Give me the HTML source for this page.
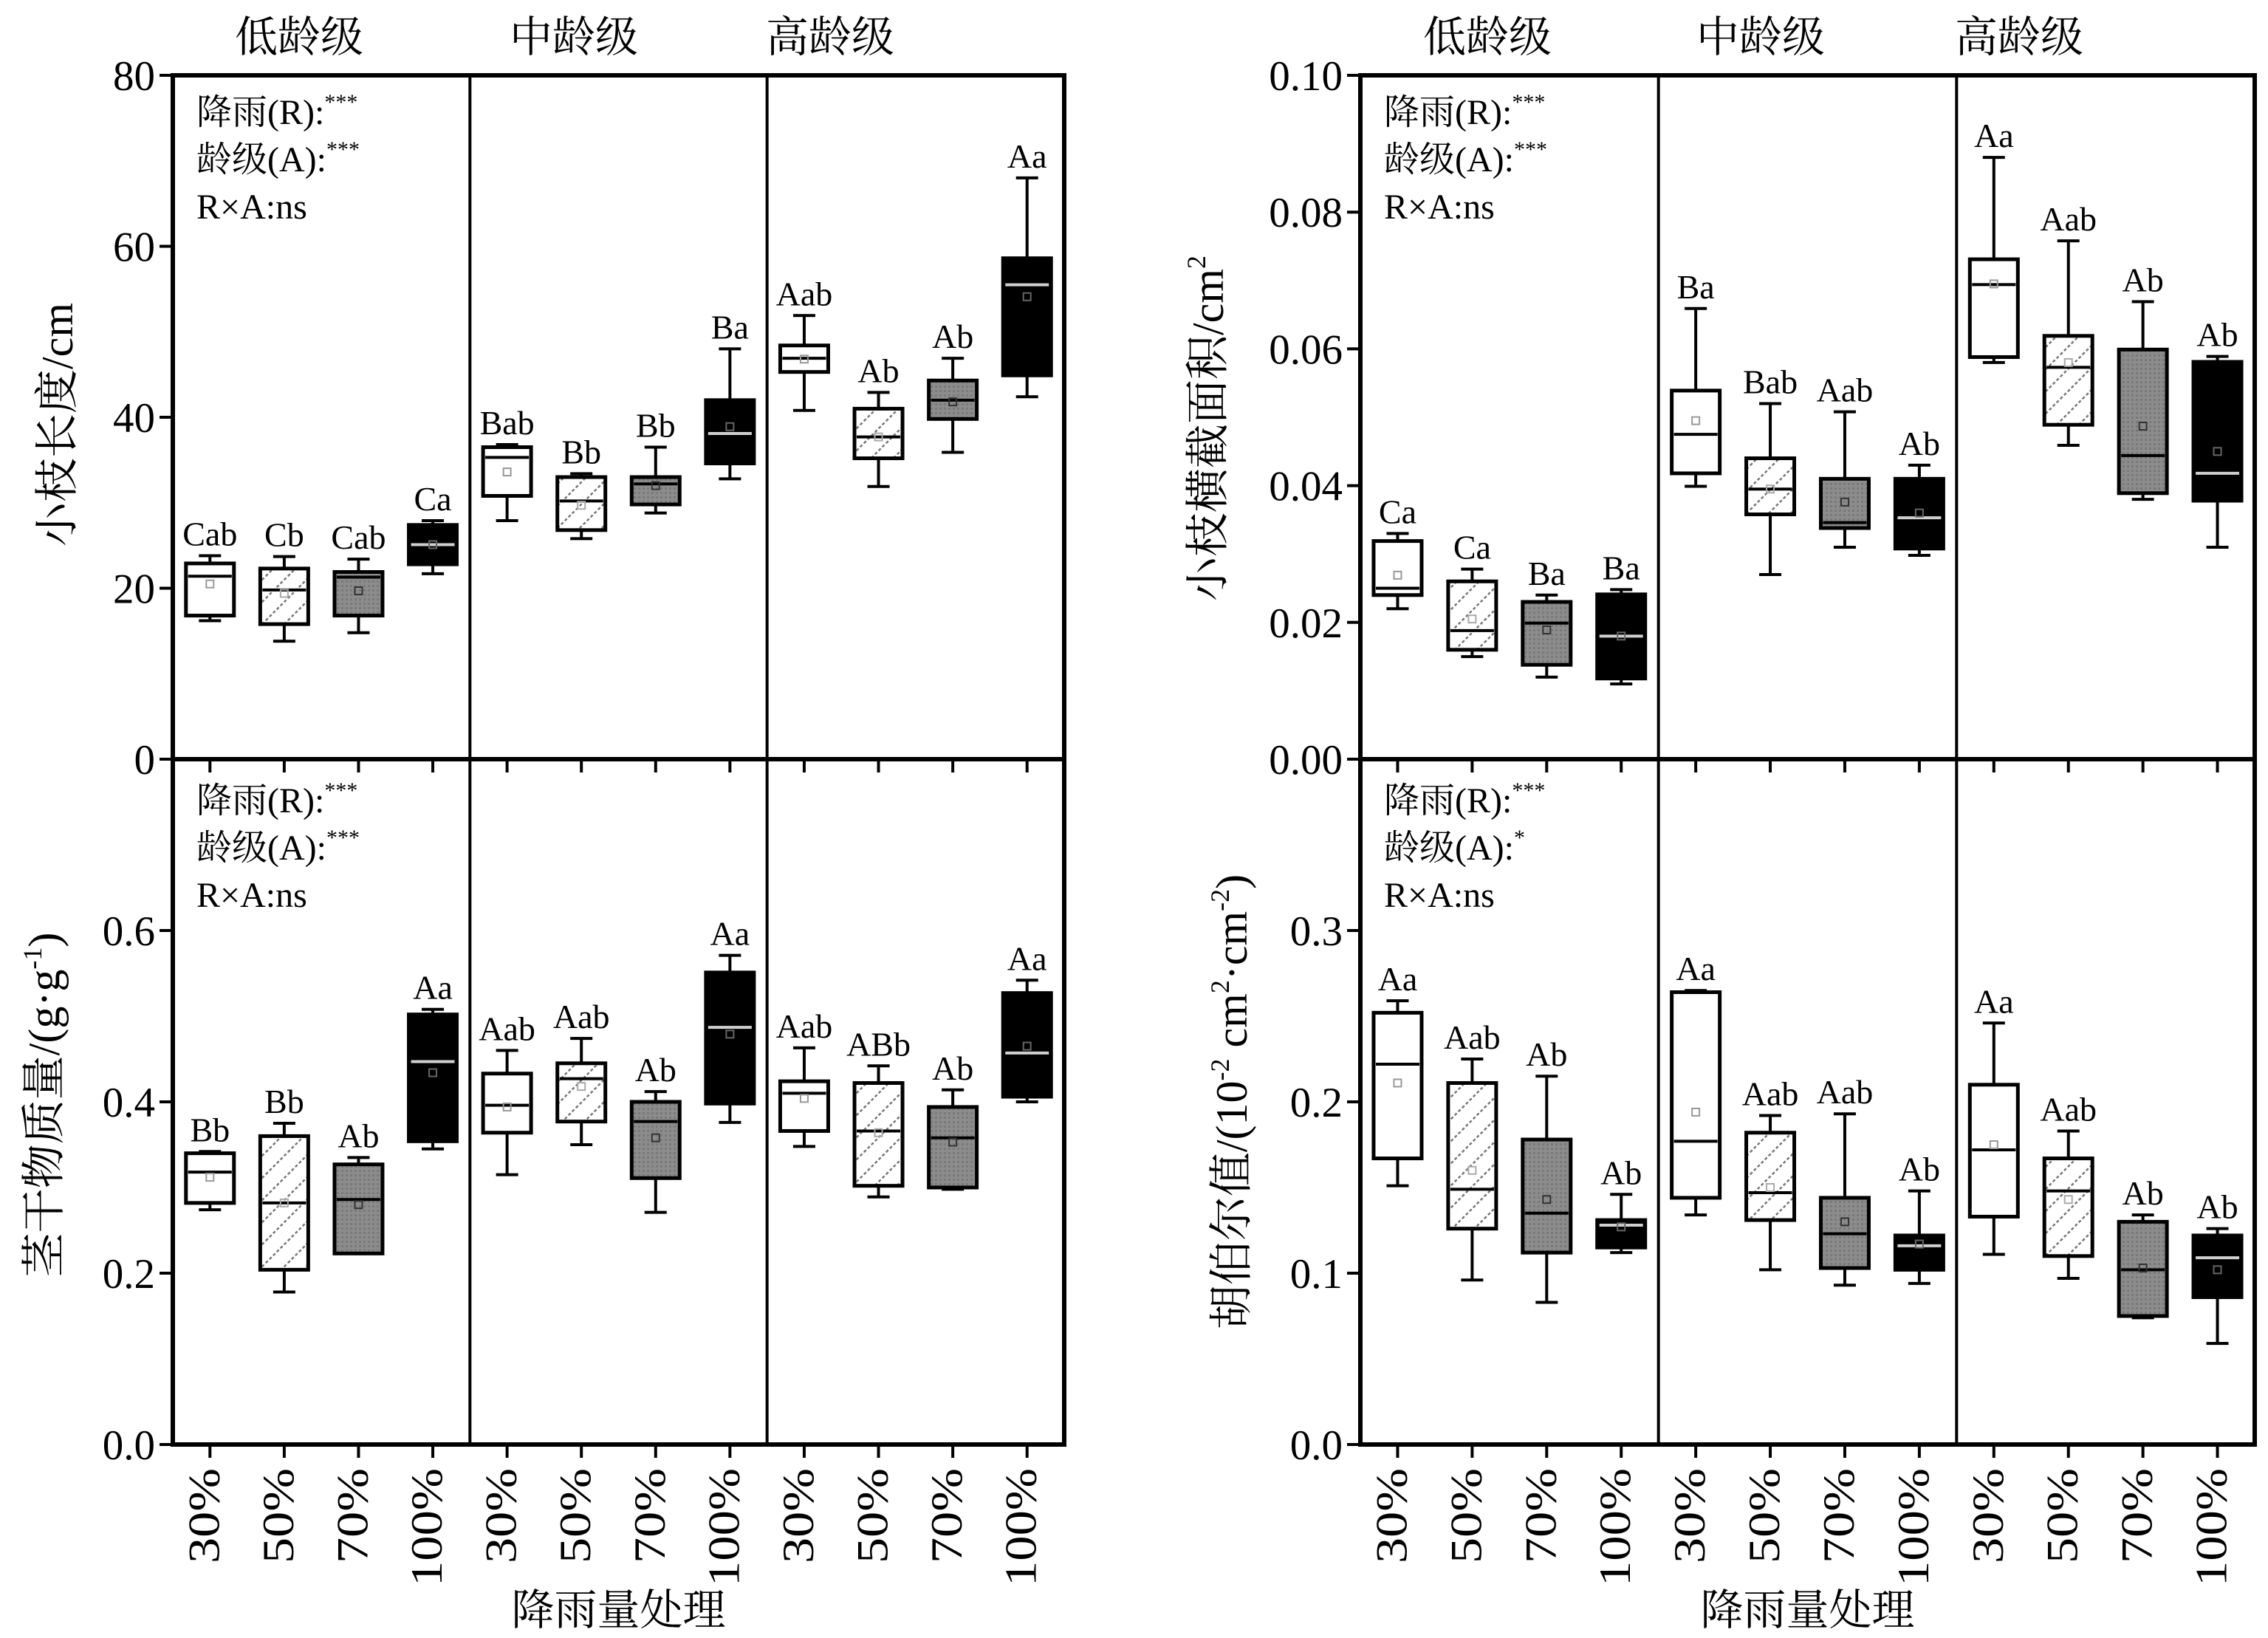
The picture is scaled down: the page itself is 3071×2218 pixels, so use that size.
<!DOCTYPE html>
<html><head><meta charset="utf-8"><style>
html,body{margin:0;padding:0;background:#fff;}
svg{display:block;font-family:"Liberation Serif","Noto Serif CJK SC","Noto Sans CJK SC",serif;}
</style></head><body>
<svg id="chart" width="3071" height="2218" viewBox="0 0 3071 2218" xmlns="http://www.w3.org/2000/svg">
<defs>
<pattern id="hatch" patternUnits="userSpaceOnUse" width="30" height="30" patternTransform="rotate(0)">
<path d="M-5,35 L35,-5 M-20,20 L20,-20 M10,50 L50,10" stroke="#777" stroke-width="2.5" stroke-dasharray="4,3"/>
</pattern>
<pattern id="stipple" patternUnits="userSpaceOnUse" width="6" height="6">
<rect width="6" height="6" fill="#8c8c8c"/><rect width="3" height="3" fill="#7a7a7a"/>
</pattern>
</defs>
<rect width="3071" height="2218" fill="#fff"/>
<g id="layer"></g>
</svg>
<script>
// Order: low age (30,50,70,100), mid age (30,50,70,100), high age (30,50,70,100)
const ageGroups = ["低龄级","中龄级","高龄级"];
const treatments = ["30%","50%","70%","100%"];

// Panel 1: 小枝长度/cm
const lenLow  = [16.2,13.8,14.8,21.7, 27.9,25.8,28.8,32.8, 40.8,31.9,35.9,42.4];
const lenQ1   = [16.8,15.8,16.8,22.8, 30.8,26.8,29.8,34.6, 45.3,35.2,39.8,44.9];
const lenMed  = [21.4,19.8,21.3,25.1, 35.3,30.2,32.2,38.1, 46.9,37.7,42.0,55.5];
const lenQ3   = [22.9,22.3,21.9,27.4, 36.5,33.0,33.0,42.0, 48.4,41.0,44.3,58.6];
const lenHigh = [23.8,23.7,23.4,27.9, 36.8,33.4,36.5,48.0, 51.9,42.9,46.9,68.0];
const lenMean = [20.5,19.4,19.7,25.1, 33.6,29.7,32.0,38.9, 46.8,37.7,41.8,54.1];
const lenLetters = ["Cab","Cb","Cab","Ca","Bab","Bb","Bb","Ba","Aab","Ab","Ab","Aa"];
const lenTicks = [0,20,40,60,80];

// Panel 2: 小枝横截面积/cm2
const areaLow  = [0.022,0.015,0.012,0.011, 0.0399,0.027,0.031,0.0298, 0.058,0.0459,0.038,0.031];
const areaQ1   = [0.024,0.016,0.0138,0.0118, 0.0418,0.0358,0.0338,0.0308, 0.0588,0.0489,0.0389,0.0378];
const areaMed  = [0.025,0.0188,0.0199,0.018, 0.0475,0.0395,0.0346,0.0353, 0.0694,0.0573,0.0444,0.0418];
const areaQ3   = [0.0319,0.026,0.023,0.0241, 0.0539,0.044,0.041,0.041, 0.0731,0.0619,0.0599,0.0581];
const areaHigh = [0.033,0.0278,0.024,0.0248, 0.0659,0.052,0.0508,0.043, 0.088,0.0758,0.0669,0.0589];
const areaMean = [0.0269,0.0205,0.0189,0.018, 0.0495,0.0395,0.0376,0.036, 0.0695,0.058,0.0487,0.045];
const areaLetters = ["Ca","Ca","Ba","Ba","Ba","Bab","Aab","Ab","Aa","Aab","Ab","Ab"];
const areaTicks = [0,0.02,0.04,0.06,0.08,0.10];
const areaTickLabels = ["0.00","0.02","0.04","0.06","0.08","0.10"];

// Panel 3: 茎干物质量/(g·g-1)
const dmLow  = [0.274,0.178,0.223,0.345, 0.315,0.35,0.271,0.376, 0.348,0.289,0.298,0.40];
const dmQ1   = [0.282,0.204,0.223,0.354, 0.364,0.377,0.311,0.398, 0.366,0.302,0.30,0.406];
const dmMed  = [0.318,0.282,0.286,0.447, 0.396,0.427,0.377,0.487, 0.41,0.366,0.358,0.457];
const dmQ3   = [0.340,0.36,0.327,0.502, 0.433,0.445,0.40,0.551, 0.424,0.422,0.394,0.527];
const dmHigh = [0.342,0.375,0.335,0.508, 0.46,0.474,0.412,0.571, 0.463,0.442,0.414,0.542];
const dmMean = [0.312,0.282,0.28,0.434, 0.394,0.418,0.358,0.479, 0.404,0.364,0.353,0.465];
const dmLetters = ["Bb","Bb","Ab","Aa","Aab","Aab","Ab","Aa","Aab","ABb","Ab","Aa"];
const dmTicks = [0,0.2,0.4,0.6];
const dmTickLabels = ["0.0","0.2","0.4","0.6"];

// Panel 4: 胡伯尔值
const hvLow  = [0.151,0.096,0.083,0.112, 0.134,0.102,0.093,0.094, 0.111,0.097,0.074,0.059];
const hvQ1   = [0.167,0.126,0.112,0.115, 0.144,0.131,0.103,0.102, 0.133,0.11,0.075,0.086];
const hvMed  = [0.222,0.149,0.135,0.128, 0.177,0.147,0.123,0.116, 0.172,0.148,0.102,0.109];
const hvQ3   = [0.252,0.211,0.178,0.131, 0.264,0.182,0.144,0.122, 0.21,0.167,0.13,0.122];
const hvHigh = [0.259,0.225,0.215,0.146, 0.265,0.192,0.193,0.148, 0.246,0.183,0.134,0.126];
const hvMean = [0.211,0.16,0.143,0.127, 0.194,0.15,0.13,0.117, 0.175,0.143,0.103,0.102];
const hvLetters = ["Aa","Aab","Ab","Ab","Aa","Aab","Aab","Ab","Aa","Aab","Ab","Ab"];
const hvTicks = [0,0.1,0.2,0.3];
const hvTickLabels = ["0.0","0.1","0.2","0.3"];

const NS="http://www.w3.org/2000/svg";
const layer=document.getElementById('layer');
function mk(tag,attrs,parent,text){
  const e=document.createElementNS(NS,tag);
  for(const k in attrs) e.setAttribute(k,attrs[k]);
  if(text!==undefined) e.textContent=text;
  (parent||layer).appendChild(e);
  return e;
}
const fills=["#ffffff","url(#hatch)","url(#stipple)","#000000"];
const medColors=["#000","#000","#000","#d0d0d0"];
const meanColors=["#999","#aaa","#333","#666"];

function panel(cfg){
  const g=mk('g',{});
  
  
  const {x0,x1,y0,y1,max}=cfg;
  const ys=v=>y1-(v/max)*(y1-y0);
  const gw=(x1-x0)/3;
  const xc=i=>x0+Math.floor(i/4)*gw+((i%4)+0.5)*gw/4;
  // boxes
  for(let i=0;i<12;i++){
    const t=i%4, cx=xc(i), bw=65, cw=30;
    const b=mk('g',{},g);
    
    
    const lo=ys(cfg.low[i]),q1=ys(cfg.q1[i]),md=ys(cfg.med[i]),q3=ys(cfg.q3[i]),hi=ys(cfg.high[i]);
    mk('line',{x1:cx,x2:cx,y1:hi,y2:q3,stroke:'#000','stroke-width':4},b);
    mk('line',{x1:cx,x2:cx,y1:q1,y2:lo,stroke:'#000','stroke-width':4},b);
    mk('line',{x1:cx-cw/2,x2:cx+cw/2,y1:hi,y2:hi,stroke:'#000','stroke-width':4},b);
    mk('line',{x1:cx-cw/2,x2:cx+cw/2,y1:lo,y2:lo,stroke:'#000','stroke-width':4},b);
    mk('rect',{x:cx-bw/2,y:q3,width:bw,height:Math.max(q1-q3,1),fill:fills[t],stroke:'#000','stroke-width':5},b);
    mk('line',{x1:cx-bw/2+3,x2:cx+bw/2-3,y1:md,y2:md,stroke:medColors[t],'stroke-width':4},b);
    const mn=ys(cfg.mean[i]);
    mk('rect',{x:cx-5,y:mn-5,width:10,height:10,fill:'none',stroke:meanColors[t],'stroke-width':2},b);
    const lab=mk('text',{x:cx,y:hi-14,'text-anchor':'middle','font-size':46},g,cfg.letters[i]);
    
    
  }
  // frame and dividers
  const fr=mk('rect',{x:x0,y:y0,width:x1-x0,height:y1-y0,fill:'none',stroke:'#000','stroke-width':6},g);
  
  
  for(let k=1;k<3;k++){
    const d=mk('line',{x1:x0+k*gw,x2:x0+k*gw,y1:y0,y2:y1,stroke:'#000','stroke-width':4},g);
    
    
  }
  // x ticks
  for(let i=0;i<12;i++){
    mk('line',{x1:xc(i),x2:xc(i),y1:y1,y2:y1+18,stroke:'#000','stroke-width':4},g);
  }
  // y ticks
  const yt=mk('g',{},g);
  
  
  cfg.ticks.forEach((v,j)=>{
    const y=ys(v);
    mk('line',{x1:x0-18,x2:x0,y1:y,y2:y,stroke:'#000','stroke-width':4},yt);
    mk('text',{x:x0-24,y:y+20,'text-anchor':'end','font-size':57},yt,cfg.tickLabels[j]);
  });
  if(cfg.topTick) mk('line',{x1:x0-18,x2:x0,y1:y0,y2:y0,stroke:'#000','stroke-width':4},yt);
  // annotations
  const an=mk('g',{'font-size':48},g);
  
  
  const ax=x0+32, ay=y0+cfg.annOff;
  const t1=mk('text',{x:ax,y:ay},an,'降雨(R):');
  mk('tspan',{'font-size':30,dy:-20},t1,'***');
  const t2=mk('text',{x:ax,y:ay+64},an,'龄级(A):');
  mk('tspan',{'font-size':30,dy:-20},t2,cfg.ageSig);
  mk('text',{x:ax,y:ay+128},an,'R×A:ns');
  // y title
  const yt2=mk('text',{x:0,y:0,'text-anchor':'middle','font-size':60,transform:`translate(${cfg.titleX},${cfg.titleY}) rotate(-90)`},g);
  
  
  cfg.title(yt2);
  // x labels
  if(cfg.xlabels){
    for(let i=0;i<12;i++){
      const s=treatments[i%4];
      const tl=mk('text',{x:0,y:0,'text-anchor':'end','font-size':60,textLength:s.length===4?160:129,lengthAdjust:'spacingAndGlyphs',transform:`translate(${xc(i)+12},${y1+32}) rotate(-90)`},g,s);
      
      
    }
    const xt=mk('text',{x:(x0+x1)/2,y:2200,'text-anchor':'middle','font-size':58},g,'降雨量处理');
    
    
  }
  if(cfg.groupLabels){
    cfg.groupX.forEach((gx,k)=>{
      const gl=mk('text',{x:gx,y:70,'text-anchor':'middle','font-size':58},g,ageGroups[k]);
      
      
    });
  }
}
const LX0=234,LX1=1441,RX0=1842,RX1=3053,TY0=102,MY=1028,BY=1956;
panel({name:'twig-length-panel',key:'length',x0:LX0,x1:LX1,y0:TY0,y1:MY,max:80,
  low:lenLow,q1:lenQ1,med:lenMed,q3:lenQ3,high:lenHigh,mean:lenMean,letters:lenLetters,
  ticks:lenTicks,tickLabels:lenTicks.map(String),annOff:66,ageSig:'***',
  titleX:98,titleY:575,title:t=>{t.textContent='小枝长度/cm';},
  groupLabels:true,groupX:[405,777,1124]});
panel({name:'twig-area-panel',key:'area',x0:RX0,x1:RX1,y0:TY0,y1:MY,max:0.1,
  low:areaLow,q1:areaQ1,med:areaMed,q3:areaQ3,high:areaHigh,mean:areaMean,letters:areaLetters,
  ticks:areaTicks,tickLabels:areaTickLabels,annOff:66,ageSig:'***',
  titleX:1656,titleY:580,title:t=>{t.textContent='小枝横截面积/cm';mk('tspan',{'font-size':36,dy:-24},t,'2');},
  groupLabels:true,groupX:[2014,2384,2734]});
panel({name:'stem-dry-matter-panel',key:'drymatter',x0:LX0,x1:LX1,y0:MY,y1:BY,max:0.8,
  low:dmLow,q1:dmQ1,med:dmMed,q3:dmQ3,high:dmHigh,mean:dmMean,letters:dmLetters,
  ticks:dmTicks,tickLabels:dmTickLabels,topTick:true,annOff:72,ageSig:'***',
  titleX:80,titleY:1496,title:t=>{t.textContent='茎干物质量/(g·g';mk('tspan',{'font-size':36,dy:-24},t,'-1');mk('tspan',{dy:24},t,')');},
  xlabels:true});
panel({name:'huber-value-panel',key:'huber',x0:RX0,x1:RX1,y0:MY,y1:BY,max:0.4,
  low:hvLow,q1:hvQ1,med:hvMed,q3:hvQ3,high:hvHigh,mean:hvMean,letters:hvLetters,
  ticks:hvTicks,tickLabels:hvTickLabels,topTick:true,annOff:72,ageSig:'*',
  titleX:1688,titleY:1492,title:t=>{t.textContent='胡伯尔值/(10';mk('tspan',{'font-size':36,dy:-24},t,'-2');mk('tspan',{dy:24},t,' cm');mk('tspan',{'font-size':36,dy:-24},t,'2');mk('tspan',{dy:24},t,'·cm');mk('tspan',{'font-size':36,dy:-24},t,'-2');mk('tspan',{dy:24},t,')');},
  xlabels:true});
</script>
</body></html>
